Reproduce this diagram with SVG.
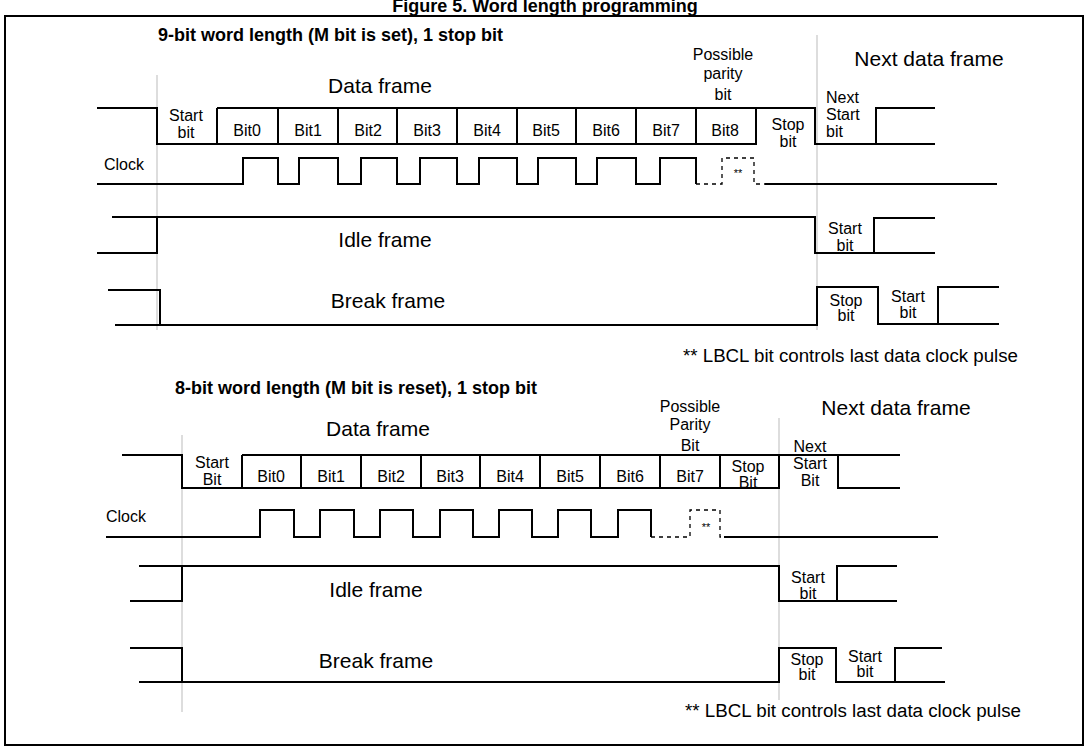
<svg xmlns="http://www.w3.org/2000/svg" width="1089" height="748" viewBox="0 0 1089 748">
<style>
text{font-family:"Liberation Sans",Arial,sans-serif;fill:#000}
.t{font-size:18px;font-weight:bold}
.l{font-size:21px}
.s{font-size:16px}
.f{font-size:18px}
.sig{fill:none;stroke:#000;stroke-width:2}
.dash{fill:none;stroke:#000;stroke-width:1.3;stroke-dasharray:4 4}
.g{stroke:#bbb;stroke-width:1}
.c{text-anchor:middle}
</style>
<rect width="1089" height="748" fill="#fff"/>
<text x="545" y="12" class="t c">Figure 5. Word length programming</text>
<rect x="5" y="16" width="1078" height="729" fill="none" stroke="#000" stroke-width="2"/>

<g id="top">
<text x="158" y="41" class="t">9-bit word length (M bit is set), 1 stop bit</text>
<line class="g" x1="157" y1="75" x2="157" y2="330"/>
<line class="g" x1="817" y1="35" x2="817" y2="330"/>
<text x="380" y="93" class="l c">Data frame</text>
<text x="723" y="60" class="s c">Possible</text>
<text x="723" y="79" class="s c">parity</text>
<text x="723" y="100" class="s c">bit</text>
<text x="929" y="66" class="l c">Next data frame</text>
<g id="top-data">
<path class="sig" d="M97 108H157V144H756V108H217M217 108V144M278 108V144M338 108V144M397 108V144M457 108V144M517 108V144M576 108V144M636 108V144M696 108V144M756 108H815V144H935M876 144V108H935"/>
<text x="186" y="121" class="s c">Start</text><text x="186" y="138" class="s c">bit</text>
<text x="247" y="136" class="s c">Bit0</text><text x="308" y="136" class="s c">Bit1</text>
<text x="368" y="136" class="s c">Bit2</text><text x="427" y="136" class="s c">Bit3</text>
<text x="487" y="136" class="s c">Bit4</text><text x="546" y="136" class="s c">Bit5</text>
<text x="606" y="136" class="s c">Bit6</text><text x="666" y="136" class="s c">Bit7</text>
<text x="725" y="136" class="s c">Bit8</text>
<text x="788" y="130" class="s c">Stop</text><text x="788" y="147" class="s c">bit</text>
<text x="826" y="103" class="s">Next</text><text x="826" y="120" class="s">Start</text><text x="826" y="137" class="s">bit</text>
</g>
<g id="top-clock">
<text x="104" y="170" class="s">Clock</text>
<path class="sig" d="M97 184H243V158H278V184H299V158H338V184H361V158H397V184H420V158H457V184H479V158H517V184H538V158H576V184H597V158H636V184H660V158H696V184"/>
<path class="dash" d="M696 184H722V158H754V184H765"/>
<line class="sig" x1="765" y1="184" x2="997" y2="184"/>
<text x="738" y="177" class="c" font-size="11">**</text>
</g>
<g id="top-idle">
<path class="sig" d="M112 217H157V253H97M157 217H815V253H935M874 253V218H935"/>
<text x="385" y="247" class="l c">Idle frame</text>
<text x="845" y="234" class="s c">Start</text><text x="845" y="251" class="s c">bit</text>
</g>
<g id="top-break">
<path class="sig" d="M108 290H160V325H115M160 325H817V287H878V324H999M938 324V287H999"/>
<text x="388" y="308" class="l c">Break frame</text>
<text x="846" y="306" class="s c">Stop</text><text x="846" y="321" class="s c">bit</text>
<text x="908" y="302" class="s c">Start</text><text x="908" y="318" class="s c">bit</text>
</g>
<text x="683" y="362" class="f" textLength="335" lengthAdjust="spacingAndGlyphs">** LBCL bit controls last data clock pulse</text>
</g>

<g id="bottom">
<text x="175" y="394" class="t">8-bit word length (M bit is reset), 1 stop bit</text>
<line class="g" x1="182" y1="435" x2="182" y2="712"/>
<line class="g" x1="779" y1="418" x2="779" y2="700"/>
<text x="378" y="436" class="l c">Data frame</text>
<text x="690" y="412" class="s c">Possible</text>
<text x="690" y="430" class="s c">Parity</text>
<text x="690" y="451" class="s c">Bit</text>
<text x="896" y="415" class="l c">Next data frame</text>
<g id="bot-data">
<path class="sig" d="M122 455H182V488H779V455H242M242 455V488M301 455V488M361 455V488M421 455V488M480 455V488M540 455V488M600 455V488M660 455V488M720 455V488M779 455H838V488H900M838 455H900"/>
<text x="212" y="468" class="s c">Start</text><text x="212" y="485" class="s c">Bit</text>
<text x="271" y="482" class="s c">Bit0</text><text x="331" y="482" class="s c">Bit1</text>
<text x="391" y="482" class="s c">Bit2</text><text x="450" y="482" class="s c">Bit3</text>
<text x="510" y="482" class="s c">Bit4</text><text x="570" y="482" class="s c">Bit5</text>
<text x="630" y="482" class="s c">Bit6</text><text x="690" y="482" class="s c">Bit7</text>
<text x="748" y="472" class="s c">Stop</text><text x="748" y="488" class="s c">Bit</text>
<text x="810" y="452" class="s c">Next</text><text x="810" y="469" class="s c">Start</text><text x="810" y="486" class="s c">Bit</text>
</g>
<g id="bot-clock">
<text x="106" y="522" class="s">Clock</text>
<path class="sig" d="M106 537H260V510H294V537H320V510H354V537H380V510H413V537H440V510H473V537H499V510H532V537H558V510H591V537H618V510H651V537"/>
<path class="dash" d="M651 537H690V510H720V537H724"/>
<line class="sig" x1="724" y1="537" x2="938" y2="537"/>
<text x="706" y="531" class="c" font-size="11">**</text>
</g>
<g id="bot-idle">
<path class="sig" d="M139 566H182V601H130M182 566H779V601H897M837 601V566H897"/>
<text x="376" y="597" class="l c">Idle frame</text>
<text x="808" y="583" class="s c">Start</text><text x="808" y="599" class="s c">bit</text>
</g>
<g id="bot-break">
<path class="sig" d="M130 648H182V682H139M182 682H779V648H836V682H945M895 682V648H942"/>
<text x="376" y="668" class="l c">Break frame</text>
<text x="807" y="665" class="s c">Stop</text><text x="807" y="680" class="s c">bit</text>
<text x="865" y="662" class="s c">Start</text><text x="865" y="677" class="s c">bit</text>
</g>
<text x="685" y="717" class="f" textLength="336" lengthAdjust="spacingAndGlyphs">** LBCL bit controls last data clock pulse</text>
</g>
</svg>
